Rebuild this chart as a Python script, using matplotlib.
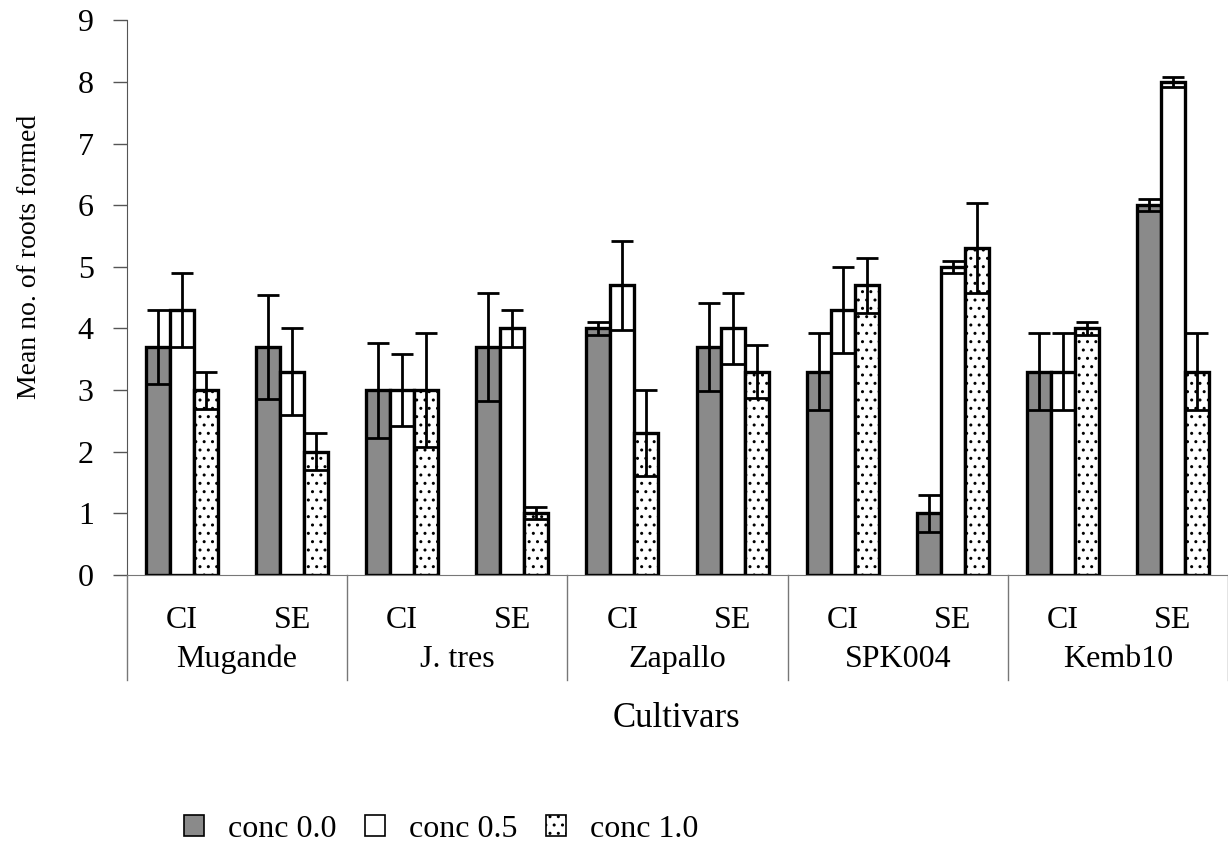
import numpy as np
import matplotlib
matplotlib.use('Agg')
import matplotlib.pyplot as plt
from matplotlib.patches import Patch
import matplotlib.transforms as mtransforms

plt.rcParams['font.family'] = ['Liberation Serif', 'DejaVu Serif']
plt.rcParams['hatch.linewidth'] = 1.0
plt.rcParams['hatch.color'] = '#333333'

cultivars = ['Mugande', 'J. tres', 'Zapallo', 'SPK004', 'Kemb10']
methods = ['CI', 'SE']
series_names = ['conc 0.0', 'conc 0.5', 'conc 1.0']

# mean number of roots, one value per cultivar/method (CI, SE alternating)
conc_00 = [3.7, 3.7, 3.0, 3.7, 4.0, 3.7, 3.3, 1.0, 3.3, 6.0]
conc_05 = [4.3, 3.3, 3.0, 4.0, 4.7, 4.0, 4.3, 5.0, 3.3, 8.0]
conc_10 = [3.0, 2.0, 3.0, 1.0, 2.3, 3.3, 4.7, 5.3, 4.0, 3.3]

# error bar half lengths
err_00 = [0.6, 0.85, 0.77, 0.88, 0.1, 0.72, 0.63, 0.3, 0.63, 0.1]
err_05 = [0.6, 0.7, 0.58, 0.3, 0.72, 0.58, 0.7, 0.1, 0.63, 0.08]
err_10 = [0.3, 0.3, 0.93, 0.1, 0.7, 0.43, 0.45, 0.73, 0.1, 0.63]

values = [conc_00, conc_05, conc_10]
errors = [err_00, err_05, err_10]
faces = ['#8a8a8a', 'white', 'white']
hatches = [None, None, '..']

fig = plt.figure(figsize=(12.28, 8.48), dpi=100)
ax = fig.add_axes([0.1034, 0.322, 0.8966, 0.654])

x = np.arange(len(cultivars) * len(methods))
width = 0.218
for i, (vals, errs) in enumerate(zip(values, errors)):
    pos = x + (i - 1) * width
    ax.bar(pos, vals, width, color=faces[i], edgecolor='black',
           linewidth=2.4, hatch=hatches[i], zorder=2)
    ax.errorbar(pos, vals, yerr=errs, fmt='none', ecolor='black',
                elinewidth=2, capsize=8, capthick=2, zorder=3)

ax.set_xlim(-0.5, len(x) - 0.5)
ax.set_ylim(0, 9)
ax.set_yticks(range(10))
ax.tick_params(axis='y', labelsize=23, length=10, width=1, color='#555555', pad=14)
ax.set_xticks([])
for s in ['top', 'right']:
    ax.spines[s].set_visible(False)
ax.spines['left'].set_color('#555555')
ax.spines['bottom'].set_color('#777777')
ax.set_ylabel('Mean no. of roots formed', fontsize=20)
ax.yaxis.set_label_coords(-0.077, 0.573)

# two-level category axis
trans = mtransforms.blended_transform_factory(ax.transData, ax.transAxes)
for k in range(len(x)):
    ax.text(x[k], -0.082, methods[k % 2], transform=trans, ha='center',
            va='center', fontsize=23)
for g, name in enumerate(cultivars):
    ax.text(2 * g + 0.5, -0.152, name, transform=trans, ha='center',
            va='center', fontsize=23)
for b in np.arange(-0.5, len(x), 2):
    ax.plot([b, b], [0, -0.19], transform=trans, color='#777777',
            linewidth=1, clip_on=False)

fig.text(0.551, 0.153, 'Cultivars', ha='center', va='center', fontsize=25)

handles = [Patch(facecolor=faces[i], edgecolor='black', hatch=hatches[i],
                 linewidth=1.2) for i in range(3)]
fig.legend(handles, series_names, loc='center', bbox_to_anchor=(0.359, 0.022),
           ncol=3, frameon=False, fontsize=23, handlelength=0.62,
           handleheight=0.62, handletextpad=0.75, columnspacing=0.9)

fig.savefig('out.png', dpi=100)
